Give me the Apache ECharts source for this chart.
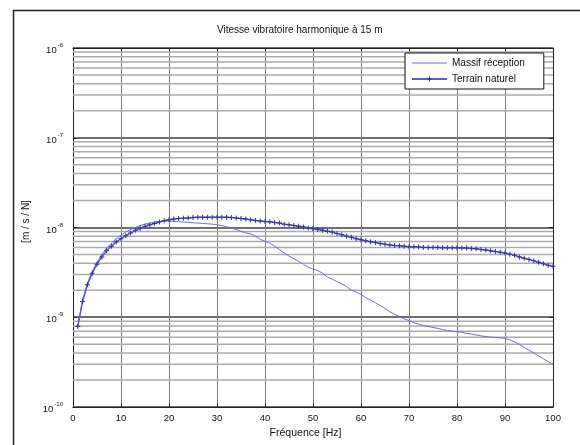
<!DOCTYPE html>
<html>
<head>
<meta charset="utf-8">
<script src="https://cdn.jsdelivr.net/npm/echarts@6/dist/echarts.min.js"></script>
<style>
  html, body { margin: 0; padding: 0; background: #fff; }
  #chart { width: 580px; height: 445px; }
</style>
</head>
<body>
<div id="chart"></div>
<script>
// Frequency axis, 1 Hz steps
const frequencies = [
  1,2,3,4,5,6,7,8,9,10,11,12,13,14,15,16,17,18,19,20,
  21,22,23,24,25,26,27,28,29,30,31,32,33,34,35,36,37,38,39,40,
  41,42,43,44,45,46,47,48,49,50,51,52,53,54,55,56,57,58,59,60,
  61,62,63,64,65,66,67,68,69,70,71,72,73,74,75,76,77,78,79,80,
  81,82,83,84,85,86,87,88,89,90,91,92,93,94,95,96,97,98,99,100
];

// Harmonic vibration velocity, foundation (m/s/N)
const massifReception = [
  8.0e-10,1.55e-9,2.4e-9,3.2e-9,4.1e-9,5.0e-9,5.9e-9,6.7e-9,7.5e-9,8.2e-9,
  8.9e-9,9.5e-9,1.0e-8,1.05e-8,1.09e-8,1.12e-8,1.15e-8,1.17e-8,1.18e-8,1.18e-8,
  1.17e-8,1.16e-8,1.15e-8,1.14e-8,1.13e-8,1.12e-8,1.11e-8,1.10e-8,1.09e-8,1.07e-8,
  1.05e-8,1.02e-8,9.9e-9,9.5e-9,9.1e-9,8.7e-9,8.5e-9,8.0e-9,7.4e-9,7.0e-9,
  6.7e-9,6.2e-9,5.7e-9,5.2e-9,4.8e-9,4.5e-9,4.2e-9,3.9e-9,3.6e-9,3.45e-9,
  3.3e-9,3.1e-9,2.8e-9,2.65e-9,2.5e-9,2.35e-9,2.2e-9,2.0e-9,1.9e-9,1.8e-9,
  1.65e-9,1.55e-9,1.45e-9,1.35e-9,1.25e-9,1.15e-9,1.08e-9,1.02e-9,9.6e-10,9.2e-10,
  8.7e-10,8.4e-10,8.1e-10,7.9e-10,7.7e-10,7.5e-10,7.3e-10,7.1e-10,7.0e-10,6.9e-10,
  6.8e-10,6.6e-10,6.5e-10,6.35e-10,6.2e-10,6.1e-10,6.0e-10,5.95e-10,5.9e-10,5.8e-10,
  5.6e-10,5.3e-10,5.0e-10,4.6e-10,4.3e-10,4.0e-10,3.7e-10,3.45e-10,3.2e-10,3.0e-10
];

// Harmonic vibration velocity, natural ground (m/s/N)
const terrainNaturel = [
  7.9e-10,1.5e-9,2.3e-9,3.1e-9,3.9e-9,4.7e-9,5.5e-9,6.2e-9,6.9e-9,7.5e-9,
  8.1e-9,8.7e-9,9.3e-9,9.8e-9,1.03e-8,1.07e-8,1.11e-8,1.15e-8,1.19e-8,1.22e-8,
  1.24e-8,1.26e-8,1.27e-8,1.28e-8,1.29e-8,1.30e-8,1.30e-8,1.30e-8,1.30e-8,1.30e-8,
  1.30e-8,1.30e-8,1.29e-8,1.28e-8,1.26e-8,1.24e-8,1.22e-8,1.20e-8,1.18e-8,1.17e-8,
  1.16e-8,1.14e-8,1.12e-8,1.09e-8,1.07e-8,1.05e-8,1.03e-8,1.01e-8,9.9e-9,9.7e-9,
  9.5e-9,9.3e-9,9.1e-9,8.9e-9,8.6e-9,8.3e-9,8.0e-9,7.8e-9,7.5e-9,7.3e-9,
  7.1e-9,6.95e-9,6.8e-9,6.65e-9,6.5e-9,6.4e-9,6.3e-9,6.25e-9,6.2e-9,6.1e-9,
  6.1e-9,6.05e-9,6.0e-9,6.0e-9,6.0e-9,6.0e-9,5.95e-9,5.95e-9,5.95e-9,5.95e-9,
  5.9e-9,5.9e-9,5.85e-9,5.8e-9,5.7e-9,5.6e-9,5.5e-9,5.4e-9,5.3e-9,5.2e-9,
  5.05e-9,4.9e-9,4.7e-9,4.55e-9,4.4e-9,4.25e-9,4.1e-9,3.95e-9,3.8e-9,3.7e-9
];

// Axis ticks
const xTicks = [0,10,20,30,40,50,60,70,80,90,100];
const yDecadeExponents = [-10,-9,-8,-7,-6];
const minorMantissas = [2,3,4,5,6,7,8,9];

const titleText = 'Vitesse vibratoire harmonique à 15 m';
const xName = 'Fréquence [Hz]';
const yName = '[m / s / N]';
const seriesNames = ['Massif réception', 'Terrain naturel'];

const FONT = 'Liberation Sans, Arial, sans-serif';

const xLo = xTicks[0];
const xHi = xTicks[xTicks.length - 1];

// minor log grid lines (2..9 x 10^n), drawn as broken horizontal segments
const minorGrid = [];
for (let i = 0; i < yDecadeExponents.length - 1; i++) {
  for (const m of minorMantissas) {
    const v = m * Math.pow(10, yDecadeExponents[i]);
    minorGrid.push([xLo, v], [xHi, v], [xHi, '-']);
  }
}

const pair = (xs, ys) => xs.map((x, i) => [x, ys[i]]);

const yMin = Math.pow(10, yDecadeExponents[0]);
const yMax = Math.pow(10, yDecadeExponents[yDecadeExponents.length - 1]);

const chart = echarts.init(document.getElementById('chart'), null, { renderer: 'canvas' });

const supLabel = v => {
  const e = Math.round(Math.log10(v));
  return '{b|10}{s|' + e + '}';
};

chart.setOption({
  backgroundColor: '#ffffff',
  animation: false,
  title: {
    text: titleText,
    left: 217,
    top: 25,
    padding: 0,
    textStyle: { fontFamily: FONT, fontSize: 10, fontWeight: 'normal', color: '#111' }
  },
  graphic: [{
    type: 'rect',
    left: 11, top: 8,
    shape: { width: 620, height: 500 },
    style: { fill: 'none', stroke: '#222', lineWidth: 1.5 },
    silent: true
  }],
  legend: {
    data: [
      { name: seriesNames[0], icon: 'path://M0,0h35v1h-35z' },
      { name: seriesNames[1] }
    ],
    orient: 'vertical',
    left: 405,
    top: 53,
    padding: [5, 19, 5, 6],
    itemGap: 6,
    itemWidth: 35,
    itemHeight: 6,
    backgroundColor: '#fff',
    borderColor: '#111',
    borderWidth: 1,
    textStyle: { fontFamily: FONT, fontSize: 10, color: '#111' }
  },
  grid: { left: 73, right: 27, top: 48, bottom: 38, containLabel: false },
  xAxis: [{
    type: 'value',
    min: xLo,
    max: xHi,
    interval: 10,
    name: xName,
    nameLocation: 'middle',
    nameGap: 19,
    nameTextStyle: { fontFamily: FONT, fontSize: 10.5, color: '#111', padding: [0, 15, 0, 0] },
    axisLine: { show: true, onZero: false, lineStyle: { color: '#222', width: 1 } },
    axisTick: { show: true, inside: true, length: 4, lineStyle: { color: '#222' } },
    axisLabel: { fontFamily: FONT, fontSize: 9.5, color: '#111', margin: 6 },
    splitLine: { show: true, lineStyle: { color: '#7a7a7a', width: 1 } }
  }, {
    type: 'value',
    position: 'top',
    min: xLo,
    max: xHi,
    interval: 10,
    axisLine: { show: true, onZero: false, lineStyle: { color: '#222', width: 1 } },
    axisTick: { show: true, inside: true, length: 4, lineStyle: { color: '#222' } },
    axisLabel: { show: false },
    splitLine: { show: false }
  }],
  yAxis: [{
    type: 'log',
    logBase: 10,
    min: yMin,
    max: yMax,
    name: yName,
    nameLocation: 'middle',
    nameRotate: 90,
    nameGap: 42,
    nameTextStyle: { fontFamily: FONT, fontSize: 10, color: '#111', padding: [0, 0, 0, 12] },
    axisLine: { show: true, onZero: false, lineStyle: { color: '#222', width: 1 } },
    axisTick: { show: true, inside: true, length: 4, lineStyle: { color: '#222' } },
    axisLabel: {
      margin: 10,
      formatter: supLabel,
      rich: {
        b: { fontFamily: FONT, fontSize: 9.5, color: '#111', padding: [5, 0, 0, 0] },
        s: { fontFamily: FONT, fontSize: 6, color: '#111', padding: [0, 0, 5, 1] }
      }
    },
    splitLine: { show: true, lineStyle: { color: '#6e6e6e', width: 2 } }
  }, {
    type: 'log',
    logBase: 10,
    min: yMin,
    max: yMax,
    position: 'right',
    axisLine: { show: true, onZero: false, lineStyle: { color: '#222', width: 1 } },
    axisTick: { show: true, inside: true, length: 4, lineStyle: { color: '#222' } },
    axisLabel: { show: false },
    splitLine: { show: false }
  }],
  series: [
    {
      name: 'minor-grid',
      type: 'line',
      data: minorGrid,
      symbol: 'none',
      silent: true,
      connectNulls: false,
      z: 1,
      lineStyle: { color: '#ababab', width: 1.5 },
      emphasis: { disabled: true },
      tooltip: { show: false }
    },
    {
      name: seriesNames[0],
      type: 'line',
      data: pair(frequencies, massifReception),
      showSymbol: false,
      symbol: 'none',
      z: 3,
      lineStyle: { color: '#6f6fcc', width: 1 },
      itemStyle: { color: '#6f6fcc' }
    },
    {
      name: seriesNames[1],
      type: 'line',
      data: pair(frequencies, terrainNaturel),
      symbol: 'path://M-1,-5L1,-5L1,-1L5,-1L5,1L1,1L1,5L-1,5L-1,1L-5,1L-5,-1L-1,-1Z',
      symbolSize: 5,
      showSymbol: true,
      z: 4,
      lineStyle: { color: '#5a5ad0', width: 1.5 },
      itemStyle: { color: '#353598' }
    }
  ]
});
</script>
</body>
</html>
